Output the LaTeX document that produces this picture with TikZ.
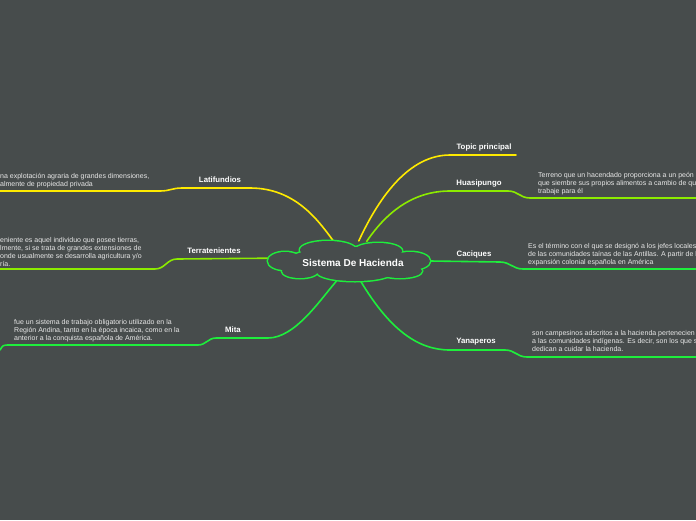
\documentclass[tikz,border=0pt]{standalone}
\usepackage{fontspec}
\setmainfont{Liberation Sans}
\usepackage{tikz}
\usetikzlibrary{positioning,shapes.geometric}
\definecolor{bg}{HTML}{474C4C}
\definecolor{yel}{HTML}{FFEA00}
\definecolor{lime}{HTML}{8CEB00}
\definecolor{grn}{HTML}{1EEE3C}
\definecolor{txt}{HTML}{E8E8E8}
\tikzset{
  every picture/.style={line cap=round, line join=round},
  branch/.style={draw=#1, line width=1.6pt},
  topic/.style={text=white, font=\fontsize{7.8}{9}\selectfont\bfseries, inner sep=1pt},
  note/.style={text=txt, font=\fontsize{7}{8}\selectfont, align=left,
    anchor=north west, inner sep=0pt},
  hubarea/.style={ellipse, minimum width=162pt, minimum height=40pt, inner sep=0pt},
  title/.style={text=white, font=\fontsize{10}{11}\selectfont\bfseries},
}
% puffs of the central cloud: centre x/y, radii
\newcommand\cloudpuffs{(285,261)/17/9, (328,250)/28/9, (378,251)/24/8,
  (410,261)/20/9, (300,271)/18/7, (355,272)/38/9, (400,271)/22/7, (350,261)/62/14}

\begin{document}
\begin{tikzpicture}[x=1pt,y=-1pt]
  \useasboundingbox (0,0) rectangle (696,520);
  \fill[bg] (0,0) rectangle (696,520);
  \clip (0,0) rectangle (696,520);

  % centre
  \node[hubarea] (hub) at (349,261) {};

  % ---------- right side ----------
  \node[topic] (top) at (484,147) {Topic principal};
  \node[topic] (hua) at (479,183) {Huasipungo};
  \node[topic] (cac) at (474,254) {Caciques};
  \node[topic] (yan) at (476,342) {Yanaperos};

  \node[note] (huaT) at (538,172.5) {Terreno que un hacendado proporciona a un peón\\
    que siembre sus propios alimentos a cambio de qu\\ trabaje para él};
  \node[note] (cacT) at (528,243.5) {Es el término con el que se designó a los jefes locales\\
    de las comunidades taínas de las Antillas. A partir de l\\ expansión colonial española en América};
  \node[note] (yanT) at (532,330.5) {son campesinos adscritos a la hacienda pertenecien\\
    a las comunidades indígenas. Es decir, son los que s\\ dedican a cuidar la hacienda.};

  % ---------- left side ----------
  \node[topic] (lat) at (220,180) {Latifundios};
  \node[topic] (ter) at (214,251) {Terratenientes};
  \node[topic] (mit) at (233,330) {Mita};

  \node[note] (latT) at (0,173.5) {na explotación agraria de grandes dimensiones,\\
    almente de propiedad privada};
  \node[note] (terT) at (0,237.5) {eniente es aquel individuo que posee tierras,\\
    lmente, si se trata de grandes extensiones de\\
    onde usualmente se desarrolla agricultura y/o\\ ría.};
  \node[note] (mitT) at (14,319.5) {fue un sistema de trabajo obligatorio utilizado en la\\
    Región Andina, tanto en la época incaica, como en la\\
    anterior a la conquista española de América.};

  % connectors
  \draw[branch=yel] (hub.64) .. controls (380,195) and (410,155) .. (450,155) -- (516,155);
  \draw[branch=lime] (hub.48) .. controls (388,210) and (415,191) .. (450,191) -- (508,191)
    .. controls (518,191) and (520,198) .. (530,198) -- (700,198);
  \draw[branch=grn] (hub.0) -- (500,262) .. controls (510,262) and (513,269) .. (523,269) -- (700,269);
  \draw[branch=grn] (hub.300) .. controls (390,330) and (418,350) .. (450,350) -- (505,350)
    .. controls (515,350) and (517,357) .. (527,357) -- (700,357);
  \draw[branch=yel] (hub.128) .. controls (318,220) and (295,188) .. (250,188) -- (182,188)
    .. controls (172,188) and (170,191) .. (160,191) -- (-4,191);
  \draw[branch=lime] (hub.178) -- (177,259) .. controls (167,259) and (165,269) .. (155,269) -- (-4,269);
  \draw[branch=grn] (hub.238) .. controls (320,300) and (295,338) .. (268,338) -- (216,338)
    .. controls (208,338) and (206,345) .. (198,345) -- (10,345) .. controls (3,345) .. (0,350);

  % cloud: outline of all puffs, then fill them to keep only the outer edge
  \foreach \c/\rx/\ry in \cloudpuffs
    \draw[grn, line width=3pt] \c ellipse [x radius=\rx, y radius=\ry];
  \foreach \c/\rx/\ry in \cloudpuffs
    \fill[bg] \c ellipse [x radius=\rx, y radius=\ry];
  \node[title] (ttl) at (353,263) {Sistema De Hacienda};
\end{tikzpicture}
\end{document}
